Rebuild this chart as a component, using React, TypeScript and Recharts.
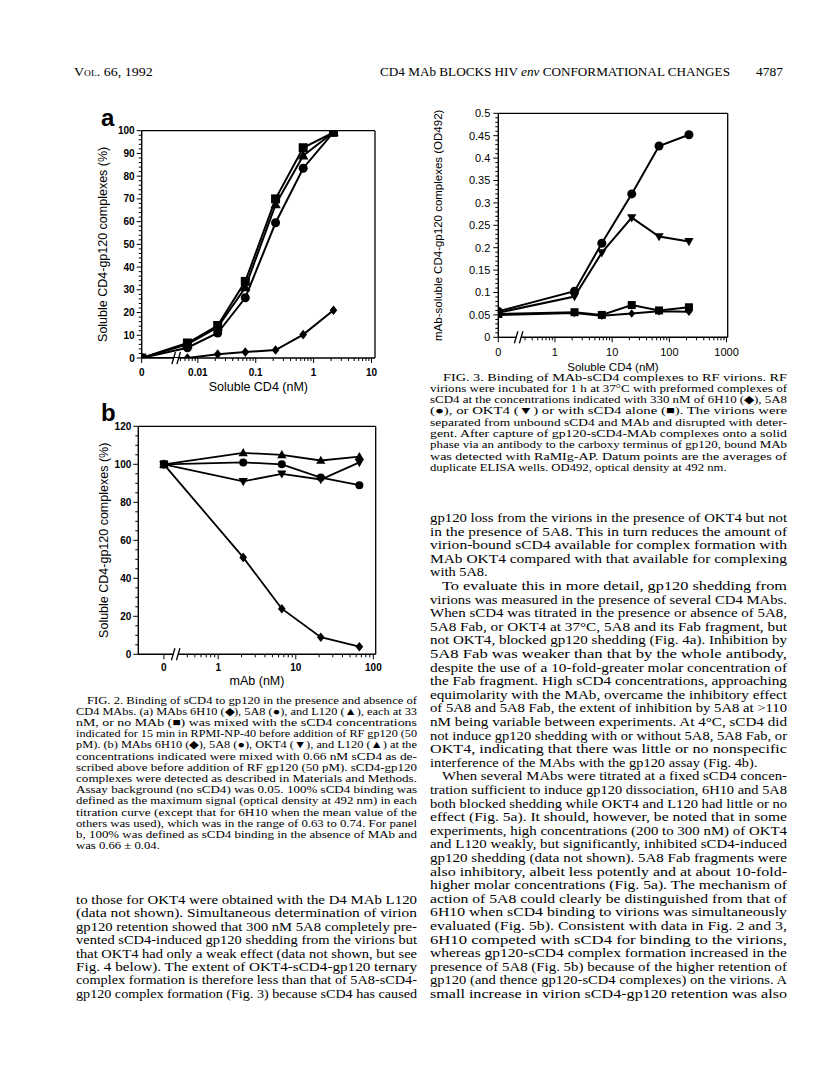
import React from "react";
import { LineChart, Line, XAxis, YAxis, ReferenceLine, ReferenceDot } from "recharts";

type Shape = "square" | "circle" | "up" | "down" | "diamond";

// ---- Fig. 2a: sCD4 titration (nM), MAbs at 33 nM ----
const concA = [0, 0.0066, 0.022, 0.066, 0.22, 0.66, 2.2];
const noMAbA = [0, 6.6, 14.3, 33.7, 70, 92.5, 99.3];
const l120A = [0, 6, 13.5, 31, 67.5, 89, 99.3];
const mab5A8A = [0, 4.5, 11, 26.5, 59.5, 83.5, 99.3];
const mab6H10A = [0, 0, 1.7, 2.6, 3.5, 10.3, 21];
const xMajorA = [0, 0.01, 0.1, 1, 10];
const xLabelA = ["0", "0.01", "0.1", "1", "10"];

// ---- Fig. 2b: MAb titration (nM), 0.66 nM sCD4 ----
const mAbB = [0, 2.1, 6.6, 21, 66];
const l120B = [100, 106, 105, 102, 104];
const mab5A8B = [100, 101, 100, 93, 89];
const okt4B = [100, 91, 95, 92, 101];
const mab6H10B = [100, 51, 24, 9, 4];
const noMAbConcB = [0];
const noMAbB = [100];
const xMajorB = [0, 1, 10, 100];
const xLabelB = ["0", "1", "10", "100"];

// ---- Fig. 3: binding to RF virions (OD492) ----
const sCD4F3 = [0, 2.2, 6.6, 22, 66, 220];
const mab5A8F3 = [0.058, 0.103, 0.21, 0.32, 0.427, 0.452];
const okt4F3 = [0.055, 0.091, 0.189, 0.267, 0.225, 0.214];
const noMAbF3 = [0.052, 0.056, 0.05, 0.072, 0.06, 0.067];
const mab6H10F3 = [0.05, 0.054, 0.048, 0.053, 0.058, 0.057];
const xMajorF3 = [0, 1, 10, 100, 1000];
const xLabelF3 = ["0", "1", "10", "100", "1000"];

const SANS = '"Liberation Sans", Arial, Helvetica, sans-serif';
const SERIF = '"Liberation Serif", "Times New Roman", serif';

// minor ticks of a log axis: m * decade, m = 2..9 (first decade may start later)
function logMinors(decades: number[], firstStart: number) {
  const out: number[] = [];
  decades.forEach((d, i) => {
    for (let m = i === 0 ? firstStart : 2; m <= 9; m++) out.push(m * d);
  });
  return out;
}

interface LogAxis {
  zero: number; // where "0" sits, in log10 units
  domain: [number, number];
  brk: number;
  brkGap: number;
  majors: number[];
  labels: string[];
  minors: number[];
}

interface LinAxis {
  domain: [number, number];
  ticks: number[];
  labelOf: (v: number) => string | null;
}

interface Series {
  name: string;
  conc: number[];
  values: number[];
  shape: Shape;
  size: number;
}

function Marker({ cx, cy, shape, size }: { cx: number; cy: number; shape: Shape; size: number }) {
  const s = size;
  if (shape === "square") return <rect x={cx - s / 2} y={cy - s / 2} width={s} height={s} fill="#000" />;
  if (shape === "circle") return <circle cx={cx} cy={cy} r={s / 2} fill="#000" />;
  if (shape === "up")
    return (
      <polygon
        points={`${cx},${cy - s * 0.6} ${cx + s * 0.58},${cy + s * 0.42} ${cx - s * 0.58},${cy + s * 0.42}`}
        fill="#000"
      />
    );
  if (shape === "down")
    return (
      <polygon
        points={`${cx},${cy + s * 0.6} ${cx + s * 0.58},${cy - s * 0.42} ${cx - s * 0.58},${cy - s * 0.42}`}
        fill="#000"
      />
    );
  return (
    <polygon
      points={`${cx},${cy - s * 0.6} ${cx + s * 0.48},${cy} ${cx},${cy + s * 0.6} ${cx - s * 0.48},${cy}`}
      fill="#000"
    />
  );
}

function BreakMark({ cx, cy }: { cx: number; cy: number }) {
  return (
    <g stroke="#000" strokeWidth={1.3}>
      <line x1={cx - 4.5} y1={cy + 6} x2={cx - 1} y2={cy - 6} />
      <line x1={cx + 0.5} y1={cy + 6} x2={cx + 4} y2={cy - 6} />
    </g>
  );
}

function TitrationChart(props: {
  left: number;
  top: number;
  width: number;
  height: number;
  margin: { top: number; right: number; left: number; bottom: number };
  yAxisWidth: number;
  xAxisHeight: number;
  x: LogAxis;
  y: LinAxis;
  series: Series[];
  xTitle: string;
  yTitle: string;
  xTitleOffset: number;
  yTitleOffset: number;
  titleSize: number;
  tickFont: number;
  tickWeight: number;
  xLabelTop: number;
  yLabelGap: number;
  strokeWidth: number;
}) {
  const { x, y } = props;
  const pos = (c: number) => (c === 0 ? x.zero : Math.log10(c));
  const xTicks = [...x.majors, ...x.minors].map(pos);
  const xLabel = (v: number) => {
    const i = x.majors.findIndex((c) => Math.abs(pos(c) - v) < 1e-9);
    return i >= 0 ? x.labels[i] : null;
  };

  const xTick = (p: any) => {
    const label = xLabel(p.payload.value);
    const len = label !== null ? 5 : 3;
    return (
      <g>
        <line x1={p.x} x2={p.x} y1={p.y} y2={p.y + len} stroke="#000" strokeWidth={1} />
        {label !== null && (
          <text
            x={p.x}
            y={p.y + props.xLabelTop}
            dy="0.71em"
            textAnchor="middle"
            fontSize={props.tickFont}
            fontWeight={props.tickWeight}
            fontFamily={SANS}
            fill="#000"
          >
            {label}
          </text>
        )}
      </g>
    );
  };

  const yTick = (p: any) => {
    const label = y.labelOf(p.payload.value);
    const len = label !== null ? 5 : 3;
    return (
      <g>
        <line x1={p.x - len} x2={p.x} y1={p.y} y2={p.y} stroke="#000" strokeWidth={1} />
        {label !== null && (
          <text
            x={p.x - props.yLabelGap}
            y={p.y}
            dy="0.36em"
            textAnchor="end"
            fontSize={props.tickFont}
            fontWeight={props.tickWeight}
            fontFamily={SANS}
            fill="#000"
          >
            {label}
          </text>
        )}
      </g>
    );
  };

  const [x0, x1] = x.domain;
  const [y0, y1] = y.domain;
  const titleStyle = { fontSize: props.titleSize, fontFamily: SANS, fill: "#000" };

  return (
    <div style={{ position: "absolute", left: props.left, top: props.top }}>
      <LineChart width={props.width} height={props.height} margin={props.margin}>
        <XAxis
          type="number"
          dataKey="x"
          domain={x.domain}
          ticks={xTicks}
          interval={0}
          allowDataOverflow
          axisLine={false}
          tickLine={false}
          tickSize={0}
          tickMargin={0}
          height={props.xAxisHeight}
          tick={xTick}
          label={{ value: props.xTitle, position: "insideBottom", offset: props.xTitleOffset, style: titleStyle }}
        />
        <YAxis
          type="number"
          domain={y.domain}
          ticks={y.ticks}
          interval={0}
          allowDataOverflow
          axisLine={{ stroke: "#000", strokeWidth: 1.4 }}
          tickLine={false}
          tickSize={0}
          tickMargin={0}
          width={props.yAxisWidth}
          tick={yTick}
          label={{
            value: props.yTitle,
            angle: -90,
            position: "insideLeft",
            offset: props.yTitleOffset,
            style: { ...titleStyle, textAnchor: "middle" },
          }}
        />
        <ReferenceLine y={y1} stroke="#000" strokeWidth={1.3} />
        <ReferenceLine x={x1} stroke="#000" strokeWidth={1.3} />
        <ReferenceLine
          segment={[
            { x: x0, y: y0 },
            { x: x.brk - x.brkGap, y: y0 },
          ]}
          stroke="#000"
          strokeWidth={1.4}
        />
        <ReferenceLine
          segment={[
            { x: x.brk + x.brkGap, y: y0 },
            { x: x1, y: y0 },
          ]}
          stroke="#000"
          strokeWidth={1.4}
        />
        <ReferenceDot
          x={x.brk}
          y={y0}
          r={1}
          ifOverflow="visible"
          shape={(p: any) => <BreakMark cx={p.cx} cy={p.cy} />}
        />
        {props.series.map((s) => (
          <Line
            key={s.name}
            data={s.conc.map((c, i) => ({ x: pos(c), y: s.values[i] }))}
            dataKey="y"
            type="linear"
            stroke="#000"
            strokeWidth={props.strokeWidth}
            dot={(p: any) => <Marker key={`${s.name}-${p.index}`} cx={p.cx} cy={p.cy} shape={s.shape} size={s.size} />}
            activeDot={false}
            isAnimationActive={false}
          />
        ))}
      </LineChart>
    </div>
  );
}

// ---- page text ----
const header = { left: "Vol. 66, 1992", page: "4787" };

const fig2Caption = [
  "FIG. 2. Binding of sCD4 to gp120 in the presence and absence of",
  "CD4 MAbs. (a) MAbs 6H10 (◆), 5A8 (●), and L120 (▲), each at 33",
  "nM, or no MAb (■) was mixed with the sCD4 concentrations",
  "indicated for 15 min in RPMI-NP-40 before addition of RF gp120 (50",
  "pM). (b) MAbs 6H10 (◆), 5A8 (●), OKT4 (▼), and L120 (▲) at the",
  "concentrations indicated were mixed with 0.66 nM sCD4 as de-",
  "scribed above before addition of RF gp120 (50 pM). sCD4-gp120",
  "complexes were detected as described in Materials and Methods.",
  "Assay background (no sCD4) was 0.05. 100% sCD4 binding was",
  "defined as the maximum signal (optical density at 492 nm) in each",
  "titration curve (except that for 6H10 when the mean value of the",
  "others was used), which was in the range of 0.63 to 0.74. For panel",
  "b, 100% was defined as sCD4 binding in the absence of MAb and",
  "was 0.66 ± 0.04.",
];

const leftBody = [
  "to those for OKT4 were obtained with the D4 MAb L120",
  "(data not shown). Simultaneous determination of virion",
  "gp120 retention showed that 300 nM 5A8 completely pre-",
  "vented sCD4-induced gp120 shedding from the virions but",
  "that OKT4 had only a weak effect (data not shown, but see",
  "Fig. 4 below). The extent of OKT4-sCD4-gp120 ternary",
  "complex formation is therefore less than that of 5A8-sCD4-",
  "gp120 complex formation (Fig. 3) because sCD4 has caused",
];

const fig3Caption = [
  "FIG. 3. Binding of MAb-sCD4 complexes to RF virions. RF",
  "virions were incubated for 1 h at 37°C with preformed complexes of",
  "sCD4 at the concentrations indicated with 330 nM of 6H10 (◆), 5A8",
  "(●), or OKT4 (▼) or with sCD4 alone (■). The virions were",
  "separated from unbound sCD4 and MAb and disrupted with deter-",
  "gent. After capture of gp120-sCD4-MAb complexes onto a solid",
  "phase via an antibody to the carboxy terminus of gp120, bound MAb",
  "was detected with RaMIg-AP. Datum points are the averages of",
  "duplicate ELISA wells. OD492, optical density at 492 nm.",
];

const rightBody = [
  "gp120 loss from the virions in the presence of OKT4 but not",
  "in the presence of 5A8. This in turn reduces the amount of",
  "virion-bound sCD4 available for complex formation with",
  "MAb OKT4 compared with that available for complexing",
  "with 5A8.",
  "To evaluate this in more detail, gp120 shedding from",
  "virions was measured in the presence of several CD4 MAbs.",
  "When sCD4 was titrated in the presence or absence of 5A8,",
  "5A8 Fab, or OKT4 at 37°C, 5A8 and its Fab fragment, but",
  "not OKT4, blocked gp120 shedding (Fig. 4a). Inhibition by",
  "5A8 Fab was weaker than that by the whole antibody,",
  "despite the use of a 10-fold-greater molar concentration of",
  "the Fab fragment. High sCD4 concentrations, approaching",
  "equimolarity with the MAb, overcame the inhibitory effect",
  "of 5A8 and 5A8 Fab, the extent of inhibition by 5A8 at >110",
  "nM being variable between experiments. At 4°C, sCD4 did",
  "not induce gp120 shedding with or without 5A8, 5A8 Fab, or",
  "OKT4, indicating that there was little or no nonspecific",
  "interference of the MAbs with the gp120 assay (Fig. 4b).",
  "When several MAbs were titrated at a fixed sCD4 concen-",
  "tration sufficient to induce gp120 dissociation, 6H10 and 5A8",
  "both blocked shedding while OKT4 and L120 had little or no",
  "effect (Fig. 5a). It should, however, be noted that in some",
  "experiments, high concentrations (200 to 300 nM) of OKT4",
  "and L120 weakly, but significantly, inhibited sCD4-induced",
  "gp120 shedding (data not shown). 5A8 Fab fragments were",
  "also inhibitory, albeit less potently and at about 10-fold-",
  "higher molar concentrations (Fig. 5a). The mechanism of",
  "action of 5A8 could clearly be distinguished from that of",
  "6H10 when sCD4 binding to virions was simultaneously",
  "evaluated (Fig. 5b). Consistent with data in Fig. 2 and 3,",
  "6H10 competed with sCD4 for binding to the virions,",
  "whereas gp120-sCD4 complex formation increased in the",
  "presence of 5A8 (Fig. 5b) because of the higher retention of",
  "gp120 (and thence gp120-sCD4 complexes) on the virions. A",
  "small increase in virion sCD4-gp120 retention was also",
];

function TextBlock({
  lines,
  x,
  w,
  y0,
  dy,
  size,
  indent = {},
  ragged = [],
}: {
  lines: string[];
  x: number;
  w: number;
  y0: number;
  dy: number;
  size: number;
  indent?: Record<number, number>;
  ragged?: number[];
}) {
  return (
    <g fontFamily={SERIF} fontSize={size} fill="#000">
      {lines.map((t, i) => {
        const ind = indent[i] ?? 0;
        const y = y0 + i * dy;
        if (ragged.includes(i))
          return (
            <text key={i} transform={`translate(${x + ind} ${y}) scale(1.2 1)`}>
              {t}
            </text>
          );
        return (
          <text key={i} x={x + ind} y={y} textLength={w - ind} lengthAdjust="spacingAndGlyphs">
            {t}
          </text>
        );
      })}
    </g>
  );
}

function PageText() {
  return (
    <svg width={816} height={1076} style={{ position: "absolute", left: 0, top: 0 }}>
      <g fontFamily={SERIF} fill="#000" fontSize={12.5}>
        <text transform="translate(74 76) scale(1.12 1)" style={{ fontVariant: "small-caps" }}>
          {header.left}
        </text>
        <text x={380} y={76} textLength={350} lengthAdjust="spacingAndGlyphs">
          CD4 MAb BLOCKS HIV <tspan fontStyle="italic">env</tspan> CONFORMATIONAL CHANGES
        </text>
        <text x={756} y={76} textLength={27} lengthAdjust="spacingAndGlyphs">
          {header.page}
        </text>
      </g>
      <g fontFamily={SANS} fontWeight={700} fontSize={24} fill="#000">
        <text x={101} y={126}>a</text>
        <text x={101} y={421}>b</text>
      </g>
      <TextBlock lines={fig2Caption} x={76} w={341} y0={703.5} dy={11.2} size={10.6} indent={{ 0: 11 }} ragged={[13]} />
      <TextBlock lines={leftBody} x={76} w={341} y0={904} dy={13.4} size={12} />
      <TextBlock lines={fig3Caption} x={430} w={357} y0={380.5} dy={11.3} size={10.6} indent={{ 0: 13 }} ragged={[8]} />
      <TextBlock
        lines={rightBody}
        x={430}
        w={357}
        y0={522}
        dy={13.6}
        size={12}
        indent={{ 5: 12, 19: 12 }}
        ragged={[4, 18]}
      />
    </svg>
  );
}

export default function App() {
  const axisA: LogAxis = {
    zero: -2.97,
    domain: [-2.97, 1.06],
    brk: -2.37,
    brkGap: 0.045,
    majors: xMajorA,
    labels: xLabelA,
    minors: logMinors([0.001, 0.01, 0.1, 1], 5),
  };
  const axisB: LogAxis = {
    zero: -0.7,
    domain: [-1.03, 2.03],
    brk: -0.545,
    brkGap: 0.033,
    majors: xMajorB,
    labels: xLabelB,
    minors: logMinors([0.1, 1, 10], 4),
  };
  const axisF3: LogAxis = {
    zero: -0.99,
    domain: [-0.99, 3.02],
    brk: -0.63,
    brkGap: 0.045,
    majors: xMajorF3,
    labels: xLabelF3,
    minors: logMinors([0.1, 1, 10, 100], 3),
  };

  const yA: LinAxis = {
    domain: [0, 100],
    ticks: Array.from({ length: 51 }, (_, i) => i * 2),
    labelOf: (v) => (Math.round(v) % 10 === 0 ? String(Math.round(v)) : null),
  };
  const yB: LinAxis = {
    domain: [0, 120],
    ticks: Array.from({ length: 25 }, (_, i) => i * 5),
    labelOf: (v) => (Math.round(v) % 20 === 0 ? String(Math.round(v)) : null),
  };
  const yF3: LinAxis = {
    domain: [0, 0.5],
    ticks: Array.from({ length: 51 }, (_, i) => i / 100),
    labelOf: (v) => {
      const i = Math.round(v * 100);
      return i % 5 === 0 ? (i === 0 ? "0" : String(i / 100)) : null;
    },
  };

  const seriesA: Series[] = [
    { name: "6H10", conc: concA, values: mab6H10A, shape: "diamond", size: 8 },
    { name: "5A8", conc: concA, values: mab5A8A, shape: "circle", size: 9 },
    { name: "L120", conc: concA, values: l120A, shape: "up", size: 9 },
    { name: "noMAb", conc: concA, values: noMAbA, shape: "square", size: 9 },
  ];
  const seriesB: Series[] = [
    { name: "6H10", conc: mAbB, values: mab6H10B, shape: "diamond", size: 8 },
    { name: "OKT4", conc: mAbB, values: okt4B, shape: "down", size: 8 },
    { name: "5A8", conc: mAbB, values: mab5A8B, shape: "circle", size: 8 },
    { name: "L120", conc: mAbB, values: l120B, shape: "up", size: 8 },
    { name: "noMAb", conc: noMAbConcB, values: noMAbB, shape: "square", size: 8 },
  ];
  const seriesF3: Series[] = [
    { name: "6H10", conc: sCD4F3, values: mab6H10F3, shape: "diamond", size: 7 },
    { name: "noMAb", conc: sCD4F3, values: noMAbF3, shape: "square", size: 8 },
    { name: "OKT4", conc: sCD4F3, values: okt4F3, shape: "down", size: 8 },
    { name: "5A8", conc: sCD4F3, values: mab5A8F3, shape: "circle", size: 9 },
  ];

  return (
    <div style={{ position: "absolute", left: 0, top: 0, width: 816, height: 1076, background: "#fff" }}>
      <PageText />
      <TitrationChart
        left={60}
        top={100}
        width={330}
        height={310}
        margin={{ top: 30.7, right: 15, left: 0, bottom: 0 }}
        yAxisWidth={81.7}
        xAxisHeight={52}
        x={axisA}
        y={yA}
        series={seriesA}
        xTitle="Soluble CD4 (nM)"
        yTitle="Soluble CD4-gp120 complexes (%)"
        xTitleOffset={19}
        yTitleOffset={43}
        titleSize={12.5}
        tickFont={10}
        tickWeight={700}
        xLabelTop={11}
        yLabelGap={7}
        strokeWidth={2}
      />
      <TitrationChart
        left={60}
        top={400}
        width={330}
        height={300}
        margin={{ top: 26.3, right: 14.3, left: 0, bottom: 0 }}
        yAxisWidth={78.3}
        xAxisHeight={45.7}
        x={axisB}
        y={yB}
        series={seriesB}
        xTitle="mAb (nM)"
        yTitle="Soluble CD4-gp120 complexes (%)"
        xTitleOffset={14.7}
        yTitleOffset={43.3}
        titleSize={12.5}
        tickFont={10}
        tickWeight={700}
        xLabelTop={10}
        yLabelGap={7}
        strokeWidth={1.8}
      />
      <TitrationChart
        left={420}
        top={90}
        width={330}
        height={290}
        margin={{ top: 23.3, right: 22.3, left: 0, bottom: 0 }}
        yAxisWidth={78.3}
        xAxisHeight={42.7}
        x={axisF3}
        y={yF3}
        series={seriesF3}
        xTitle="Soluble CD4 (nM)"
        yTitle="mAb-soluble CD4-gp120 complexes (OD492)"
        xTitleOffset={9.3}
        yTitleOffset={18.3}
        titleSize={11.5}
        tickFont={11}
        tickWeight={400}
        xLabelTop={10.5}
        yLabelGap={8}
        strokeWidth={2}
      />
    </div>
  );
}
